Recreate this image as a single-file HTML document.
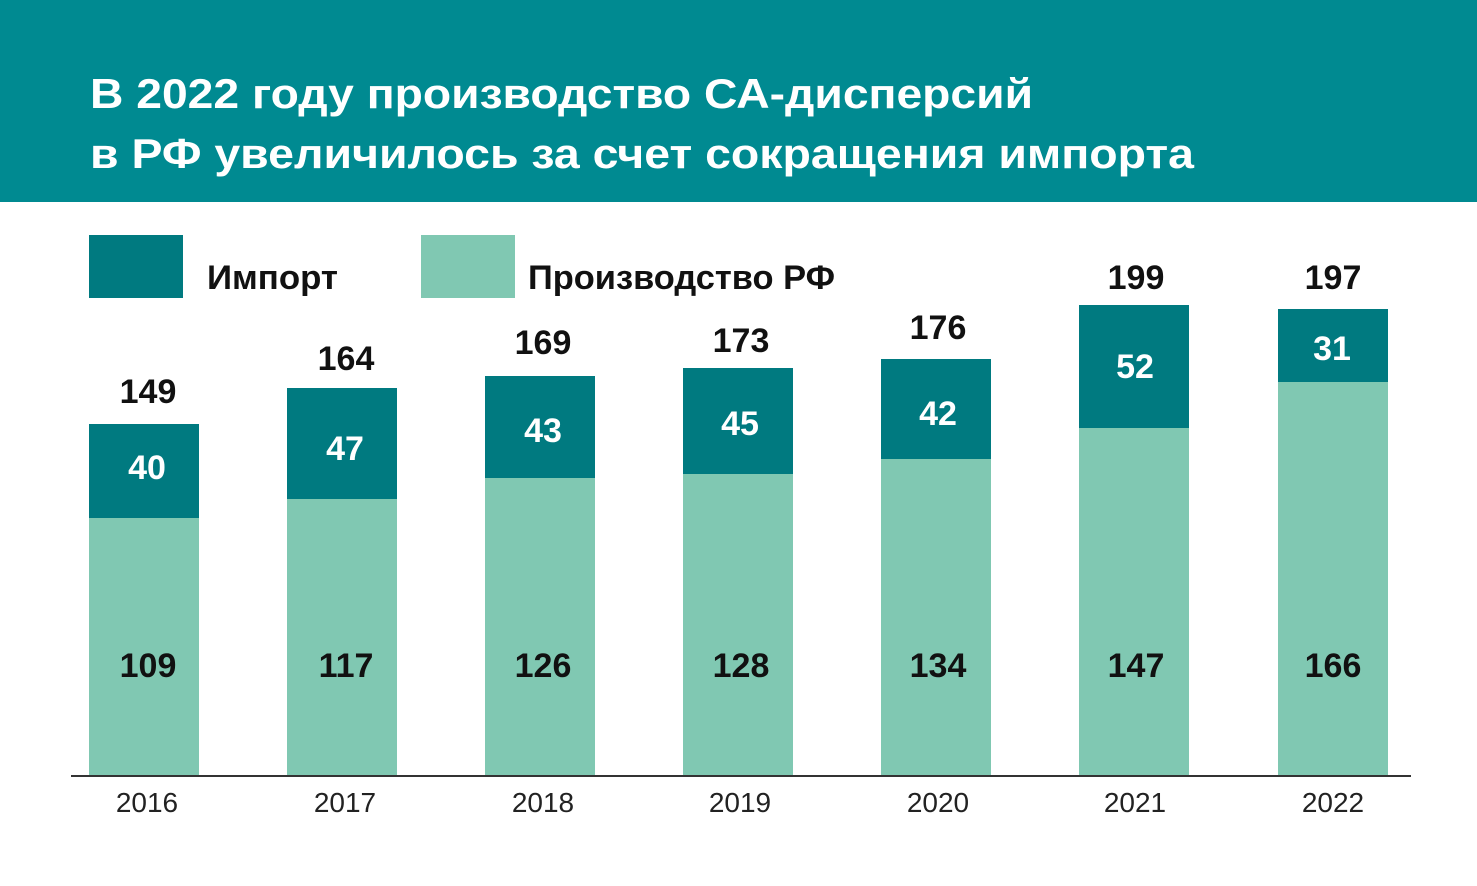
<!DOCTYPE html>
<html><head><meta charset="utf-8"><style>
body{margin:0;background:#fff}
svg{display:block}
text{font-family:"Liberation Sans","DejaVu Sans",sans-serif}
.b{font-weight:bold}
</style></head><body>
<svg width="1477" height="886" viewBox="0 0 1477 886">
<rect x="0" y="0" width="1477" height="202" fill="#008a91"/>
<text x="90" y="108" class="b" font-size="42" fill="#fff" textLength="943" lengthAdjust="spacingAndGlyphs">В 2022 году производство СА-дисперсий</text>
<text x="90" y="168" class="b" font-size="42" fill="#fff" textLength="1104" lengthAdjust="spacingAndGlyphs">в РФ увеличилось за счет сокращения импорта</text>
<rect x="89" y="235" width="94" height="63" fill="#007a80"/>
<text x="207" y="289" class="b" font-size="34" fill="#111" textLength="131" lengthAdjust="spacingAndGlyphs">Импорт</text>
<rect x="421" y="235" width="94" height="63" fill="#80c8b2"/>
<text x="528" y="289" class="b" font-size="34" fill="#111" textLength="307" lengthAdjust="spacingAndGlyphs">Производство РФ</text>
<g font-size="34" class="b" text-anchor="middle">
<!-- bars: x, top, split -->
<rect x="89" y="424" width="110" height="94" fill="#007a80"/><rect x="89" y="518" width="110" height="258" fill="#80c8b2"/>
<text x="148" y="403" fill="#111">149</text><text x="147" y="479" fill="#fff">40</text><text x="148" y="677" fill="#111">109</text>
<rect x="287" y="388" width="110" height="111" fill="#007a80"/><rect x="287" y="499" width="110" height="277" fill="#80c8b2"/>
<text x="346" y="370" fill="#111">164</text><text x="345" y="460" fill="#fff">47</text><text x="346" y="677" fill="#111">117</text>
<rect x="485" y="376" width="110" height="102" fill="#007a80"/><rect x="485" y="478" width="110" height="298" fill="#80c8b2"/>
<text x="543" y="354" fill="#111">169</text><text x="543" y="442" fill="#fff">43</text><text x="543" y="677" fill="#111">126</text>
<rect x="683" y="368" width="110" height="106" fill="#007a80"/><rect x="683" y="474" width="110" height="302" fill="#80c8b2"/>
<text x="741" y="352" fill="#111">173</text><text x="740" y="435" fill="#fff">45</text><text x="741" y="677" fill="#111">128</text>
<rect x="881" y="359" width="110" height="100" fill="#007a80"/><rect x="881" y="459" width="110" height="317" fill="#80c8b2"/>
<text x="938" y="339" fill="#111">176</text><text x="938" y="425" fill="#fff">42</text><text x="938" y="677" fill="#111">134</text>
<rect x="1079" y="305" width="110" height="123" fill="#007a80"/><rect x="1079" y="428" width="110" height="348" fill="#80c8b2"/>
<text x="1136" y="289" fill="#111">199</text><text x="1135" y="378" fill="#fff">52</text><text x="1136" y="677" fill="#111">147</text>
<rect x="1278" y="309" width="110" height="73" fill="#007a80"/><rect x="1278" y="382" width="110" height="394" fill="#80c8b2"/>
<text x="1333" y="289" fill="#111">197</text><text x="1332" y="360" fill="#fff">31</text><text x="1333" y="677" fill="#111">166</text>
</g>
<rect x="71" y="775" width="1340" height="2" fill="#333"/>
<g font-size="28" text-anchor="middle" fill="#222">
<text x="147" y="812">2016</text><text x="345" y="812">2017</text><text x="543" y="812">2018</text><text x="740" y="812">2019</text><text x="938" y="812">2020</text><text x="1135" y="812">2021</text><text x="1333" y="812">2022</text>
</g>
</svg>
</body></html>
